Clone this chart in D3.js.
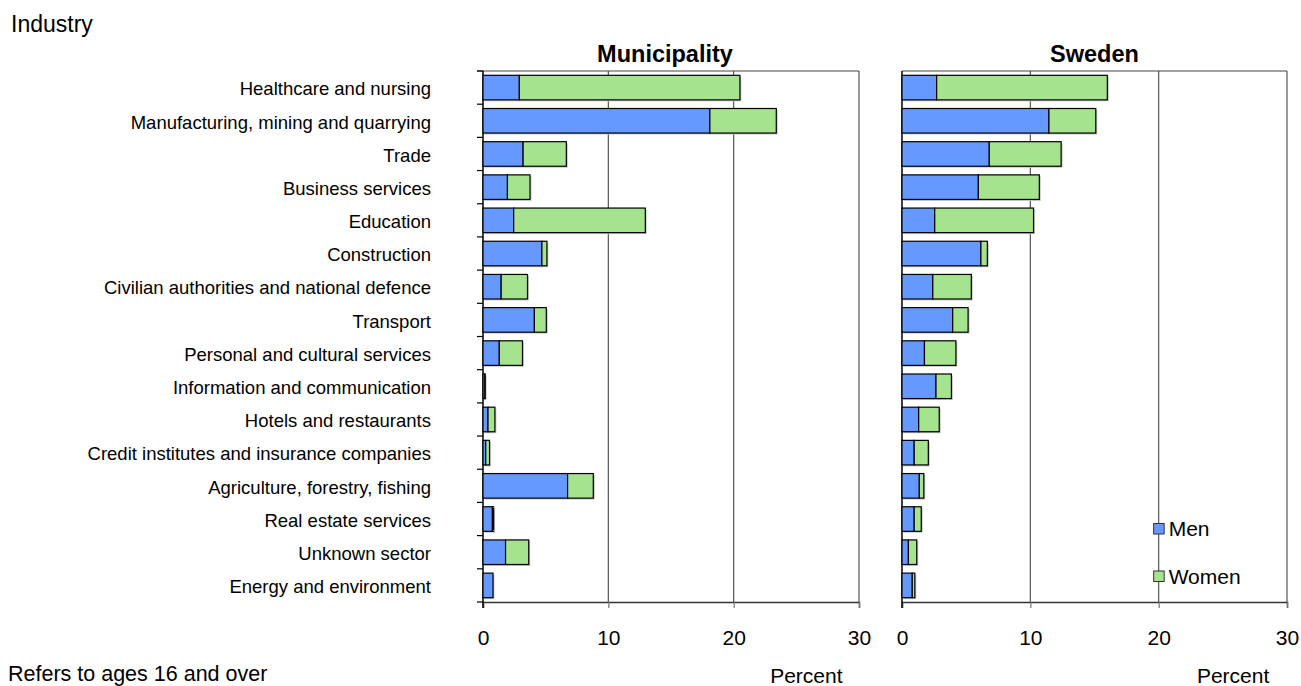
<!DOCTYPE html>
<html>
<head>
<meta charset="utf-8">
<script src="https://cdn.jsdelivr.net/npm/d3@7"></script>
<style>
  body { margin: 0; background: #fff; }
  svg { display: block; font-family: "Liberation Sans", Arial, sans-serif; }
</style>
</head>
<body>
<div id="chart"></div>
<script>
var categories = [
  "Healthcare and nursing",
  "Manufacturing, mining and quarrying",
  "Trade",
  "Business services",
  "Education",
  "Construction",
  "Civilian authorities and national defence",
  "Transport",
  "Personal and cultural services",
  "Information and communication",
  "Hotels and restaurants",
  "Credit institutes and insurance companies",
  "Agriculture, forestry, fishing",
  "Real estate services",
  "Unknown sector",
  "Energy and environment"
];

var muniMen   = [2.9, 18.1, 3.2, 1.95, 2.45, 4.7, 1.45, 4.1, 1.3, 0.15, 0.4, 0.22, 6.75, 0.75, 1.8, 0.8];
var muniWomen = [17.6, 5.3, 3.45, 1.8, 10.5, 0.4, 2.1, 0.95, 1.85, 0.02, 0.55, 0.3, 2.05, 0.1, 1.85, 0];
var sweMen    = [2.7, 11.45, 6.8, 5.95, 2.55, 6.15, 2.4, 3.95, 1.75, 2.65, 1.3, 0.95, 1.35, 0.95, 0.5, 0.8];
var sweWomen  = [13.3, 3.65, 5.6, 4.75, 7.7, 0.5, 3.0, 1.2, 2.45, 1.2, 1.6, 1.1, 0.35, 0.55, 0.65, 0.2];

var xTicks = [0, 10, 20, 30];
var seriesNames = ["Men", "Women"];
var colors = ["#6699ff", "#a6e38f"];

var width = 1301,
    height = 686,
    plotTop = 71,
    plotBottom = 602;

var svg = d3.select("#chart").append("svg")
    .attr("width", width)
    .attr("height", height);

var y = d3.scaleBand()
    .domain(categories)
    .range([plotTop, plotBottom])
    .paddingInner(0.26)
    .paddingOuter(0.13);

var color = d3.scaleOrdinal().domain(seriesNames).range(colors);

// axis title + footnote
svg.append("text")
    .attr("x", 11).attr("y", 32)
    .style("font-size", "23px")
    .text("Industry");

svg.append("text")
    .attr("x", 8).attr("y", 681)
    .style("font-size", "21.5px")
    .text("Refers to ages 16 and over");

// category labels
svg.append("g").selectAll("text")
    .data(categories)
    .enter().append("text")
    .attr("x", 431)
    .attr("y", function (d) { return y(d) + y.bandwidth() / 2; })
    .attr("dy", "0.42em")
    .attr("text-anchor", "end")
    .style("font-size", "18.5px")
    .text(function (d) { return d; });

function panel(title, x0, x1, men, women, opts) {
    var x = d3.scaleLinear().domain([0, 30]).range([x0, x1]);
    var g = svg.append("g");

    var rows = categories.map(function (c, i) {
        return { cat: c, Men: men[i], Women: women[i] };
    });
    var stacked = d3.stack().keys(seriesNames)(rows);

    // grid lines
    g.selectAll("line.grid")
        .data(xTicks.slice(1))
        .enter().append("line")
        .attr("x1", function (d) { return x(d); })
        .attr("x2", function (d) { return x(d); })
        .attr("y1", plotTop).attr("y2", plotBottom)
        .attr("stroke", "#555").attr("stroke-width", 1.2);

    // top frame line
    g.append("line")
        .attr("x1", opts.catTicks ? x0 - 6 : x0).attr("x2", x1)
        .attr("y1", plotTop).attr("y2", plotTop)
        .attr("stroke", "#444").attr("stroke-width", 1.2);

    // bottom axis
    var xAxis = d3.axisBottom(x).tickValues(xTicks).tickSize(6).tickPadding(22);
    var ax = g.append("g")
        .attr("transform", "translate(0," + plotBottom + ")")
        .call(xAxis);
    ax.select(".domain").attr("stroke", "#333").attr("stroke-width", 1.5);
    ax.selectAll(".tick line").attr("stroke", "#777").attr("stroke-width", 1.2);
    ax.selectAll(".tick text")
        .attr("fill", "#000")
        .style("font-family", "'Liberation Sans', Arial, sans-serif")
        .style("font-size", "21px");

    // left axis, municipality has ticks on category boundaries
    g.append("line")
        .attr("x1", x0).attr("x2", x0)
        .attr("y1", plotTop).attr("y2", plotBottom + 6)
        .attr("stroke", "#000").attr("stroke-width", 1.5);
    if (opts.catTicks) {
        g.selectAll("line.ytick")
            .data(d3.range(categories.length + 1))
            .enter().append("line")
            .attr("x1", x0 - 6).attr("x2", x0)
            .attr("y1", function (i) { return plotTop + i * y.step(); })
            .attr("y2", function (i) { return plotTop + i * y.step(); })
            .attr("stroke", "#000").attr("stroke-width", 1.2);
    }

    // bar shadows
    g.append("g").selectAll("rect")
        .data(stacked[1])
        .enter().append("rect")
        .attr("x", x(0) + 1.5)
        .attr("y", function (d) { return y(d.data.cat) + 1.5; })
        .attr("width", function (d) { return Math.max(0, x(d[1]) - x(0)); })
        .attr("height", y.bandwidth())
        .attr("fill", "#c8c8c8");

    // bars
    g.selectAll("g.series")
        .data(stacked)
        .enter().append("g")
        .attr("fill", function (s) { return color(s.key); })
        .selectAll("rect")
        .data(function (s) { return s; })
        .enter().append("rect")
        .attr("x", function (d) { return x(d[0]); })
        .attr("y", function (d) { return y(d.data.cat); })
        .attr("width", function (d) { return Math.max(0, x(d[1]) - x(d[0])); })
        .attr("height", y.bandwidth())
        .attr("stroke", "#000")
        .attr("stroke-width", 1.2);

    // title
    svg.append("text")
        .attr("x", (x0 + x1) / 2 + opts.titleShift).attr("y", 62)
        .attr("text-anchor", "middle")
        .style("font-size", "23.5px")
        .style("font-weight", "bold")
        .text(title);

    svg.append("text")
        .attr("x", x(25.8)).attr("y", 683)
        .attr("text-anchor", "middle")
        .style("font-size", "21px")
        .text("Percent");

    if (opts.legend) {
        var lg = svg.append("g").selectAll("g")
            .data(seriesNames)
            .enter().append("g")
            .attr("transform", function (d, i) {
                return "translate(" + (x(20) - 5) + "," + (523.5 + i * 47.5) + ")";
            });
        lg.append("rect")
            .attr("width", 10.5).attr("height", 10.5)
            .attr("fill", function (d) { return color(d); })
            .attr("stroke", "#333").attr("stroke-width", 1);
        lg.append("text")
            .attr("x", 15).attr("y", 12.5)
            .style("font-size", "21px")
            .text(function (d) { return d; });
    }
}

panel("Municipality", 483, 859, muniMen, muniWomen, { catTicks: true, legend: false, titleShift: -6 });
panel("Sweden", 902, 1287, sweMen, sweWomen, { catTicks: false, legend: true, titleShift: 0 });
</script>
</body>
</html>
